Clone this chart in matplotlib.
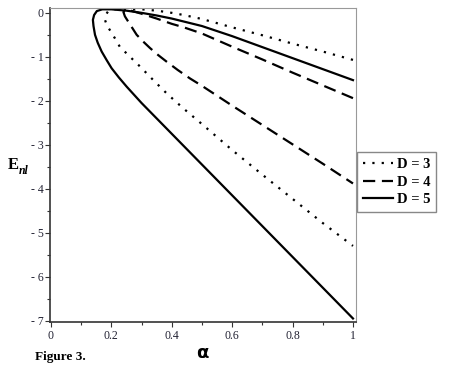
import numpy as np
import matplotlib
matplotlib.use("Agg")
import matplotlib.pyplot as plt
from matplotlib.ticker import MultipleLocator, FixedLocator

plt.rcParams['font.family'] = ['Liberation Serif', 'DejaVu Serif']

# curves: upper branch (alpha = 1 -> turning point), then lower branch back to alpha = 1
alpha_d3 = [1.0, 0.9, 0.8, 0.7, 0.6, 0.5, 0.44, 0.4, 0.35, 0.3, 0.25, 0.21, 0.19, 0.181, 0.179,
            0.185, 0.195, 0.212, 0.228, 0.256, 0.295, 0.339, 0.383, 0.438, 0.5, 0.6, 0.7, 0.8, 0.9, 1.0]
E_d3 = [-1.07, -0.88, -0.70, -0.51, -0.33, -0.14, -0.05, 0.0, 0.05, 0.08, 0.09, 0.08, 0.04, -0.05, -0.16,
        -0.28, -0.39, -0.58, -0.77, -0.96, -1.22, -1.53, -1.83, -2.17, -2.53, -3.12, -3.68, -4.23, -4.78, -5.30]

alpha_d4 = [1.0, 0.9, 0.8, 0.7, 0.6, 0.5, 0.44, 0.4, 0.35, 0.3, 0.27, 0.25, 0.24,
            0.245, 0.256, 0.27, 0.284, 0.305, 0.328, 0.355, 0.383, 0.42, 0.46, 0.5, 0.6, 0.7, 0.8, 0.9, 1.0]
E_d4 = [-1.94, -1.65, -1.36, -1.06, -0.77, -0.47, -0.33, -0.25, -0.13, -0.02, 0.04, 0.07, 0.02,
        -0.08, -0.20, -0.35, -0.50, -0.65, -0.80, -0.96, -1.11, -1.30, -1.49, -1.66, -2.11, -2.55, -2.99, -3.43, -3.88]

alpha_d5 = [1.0, 0.9, 0.8, 0.7, 0.6, 0.5, 0.4, 0.35, 0.3, 0.25, 0.2, 0.17, 0.152, 0.143, 0.139,
            0.141, 0.146, 0.155, 0.168, 0.185, 0.201, 0.225, 0.251, 0.3, 0.35, 0.4, 0.45, 0.5, 0.6, 0.7, 0.8, 0.9, 1.0]
E_d5 = [-1.53, -1.28, -1.03, -0.78, -0.53, -0.30, -0.13, -0.06, 0.0, 0.05, 0.08, 0.08, 0.04, -0.05, -0.16,
        -0.30, -0.50, -0.68, -0.88, -1.08, -1.26, -1.47, -1.68, -2.05, -2.40, -2.75, -3.10, -3.45, -4.15, -4.85, -5.55, -6.25, -6.95]

labels = ["D = 3", "D = 4", "D = 5"]
x_ticks = [0, 0.2, 0.4, 0.6, 0.8, 1]
x_ticklabels = ["0", "0.2", "0.4", "0.6", "0.8", "1"]
y_ticks = [0, -1, -2, -3, -4, -5, -6, -7]
y_ticklabels = ["0", "- 1", "- 2", "- 3", "- 4", "- 5", "- 6", "- 7"]

fig = plt.figure(figsize=(4.49, 3.73), dpi=100)
ax = fig.add_axes([50 / 449, 1 - 322 / 373, 306 / 449, 314 / 373])

ax.plot(alpha_d3, E_d3, color='black', lw=1.6, linestyle=(0, (1, 3.2)), label=labels[0])
ax.plot(alpha_d4, E_d4, color='black', lw=1.6, linestyle=(0, (5.5, 3.0)), label=labels[1])
ax.plot(alpha_d5, E_d5, color='black', lw=1.6, linestyle='-', label=labels[2])

ax.set_xlim(-0.003, 1.01)
ax.set_ylim(-7.03, 0.11)

ax.xaxis.set_major_locator(FixedLocator(x_ticks))
ax.set_xticklabels(x_ticklabels)
ax.xaxis.set_minor_locator(MultipleLocator(0.1))
ax.yaxis.set_major_locator(FixedLocator(y_ticks))
ax.set_yticklabels(y_ticklabels)
ax.yaxis.set_minor_locator(MultipleLocator(0.5))

ax.tick_params(which='both', direction='out', colors='#333333', labelcolor='#222233', labelsize=8.5)
ax.tick_params(which='major', length=3.5, width=0.8)
ax.tick_params(which='minor', length=2.5, width=0.8)
ax.tick_params(axis='x', pad=2)
ax.tick_params(axis='y', pad=1)

for side in ['left', 'bottom']:
    ax.spines[side].set_color('#333333')
    ax.spines[side].set_linewidth(1.2)
for side in ['top', 'right']:
    ax.spines[side].set_color('#999999')
    ax.spines[side].set_linewidth(0.8)

fig.text(203 / 449, 1 - 354 / 373, r'$\mathbf{\alpha}$', ha='center', va='center', fontsize=13)
fig.text(13 / 449, 1 - 165 / 373, 'E', ha='center', va='center', fontsize=12, fontweight='bold')
fig.text(19 / 449, 1 - 171 / 373, 'nl', ha='left', va='center', fontsize=8.5, fontweight='bold', fontstyle='italic')
fig.text(35 / 449, 1 - 357 / 373, 'Figure 3.', ha='left', va='center', fontsize=9.5, fontweight='bold')

leg = fig.legend(loc='upper left', bbox_to_anchor=(357 / 449, 1 - 152 / 373),
                 prop={'weight': 'bold', 'size': 10.5}, handlelength=2.1, handletextpad=0.25,
                 labelspacing=0.3, borderpad=0.4, borderaxespad=0, fancybox=False,
                 edgecolor='#888888', framealpha=1)
leg.get_frame().set_linewidth(1.0)

fig.savefig('out.png', dpi=100)
